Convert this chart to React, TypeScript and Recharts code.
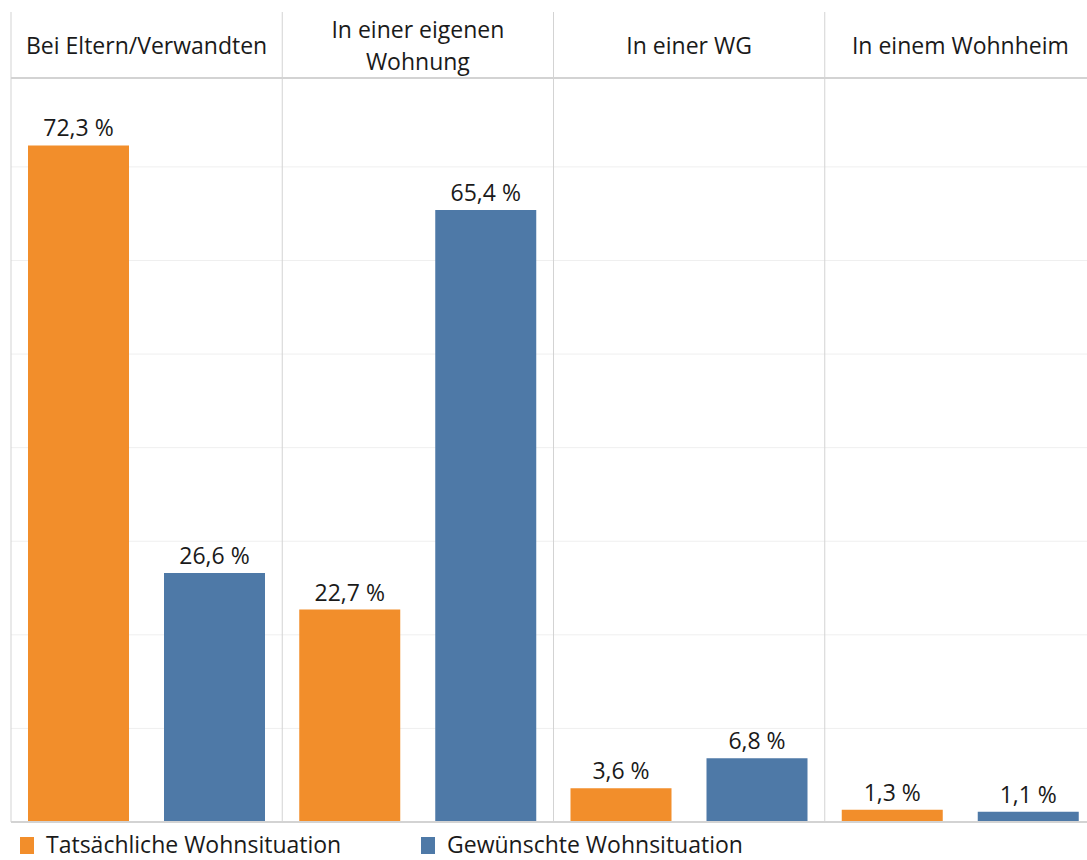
import React from "react";
import {
  BarChart,
  Bar,
  XAxis,
  YAxis,
  CartesianGrid,
  LabelList,
  Legend,
  ReferenceLine,
} from "recharts";

// Wohnsituation – tatsächlich vs. gewünscht (Anteile in %)
const categories = [
  "Bei Eltern/Verwandten",
  "In einer eigenen\nWohnung",
  "In einer WG",
  "In einem Wohnheim",
];
const actualShare = [72.3, 22.7, 3.6, 1.3];
const desiredShare = [26.6, 65.4, 6.8, 1.1];
const seriesNames = ["Tatsächliche Wohnsituation", "Gewünschte Wohnsituation"];
const gridTicks = [0, 10, 20, 30, 40, 50, 60, 70];

const data = categories.map((c, i) => ({
  category: c,
  actual: actualShare[i],
  desired: desiredShare[i],
}));

const FONT = "'Open Sans', 'Noto Sans', sans-serif";
const FONT_SIZE = 23;
const ORANGE = "#F28E2B";
const BLUE = "#4E79A7";
const LINE = "#d3d3d3";

const CHART_W = 1100;
const CHART_H = 860;
const MARGIN = { top: 12, right: 4, left: 11, bottom: 0 };
const HEADER_H = 66;
const LEGEND_H = 38;
const PLOT_W = CHART_W - MARGIN.left - MARGIN.right;
const PLOT_H = CHART_H - MARGIN.top - HEADER_H - LEGEND_H;
const BAND = PLOT_W / categories.length;

const fmt = (v: number) => `${v.toFixed(1).replace(".", ",")} %`;

// Column header with the separator line on the left edge of each column
const HeaderTick = (props: any) => {
  const { x, y, payload } = props;
  const lines = String(payload.value).split("\n");
  const left = x - BAND / 2;
  const centerY = y - HEADER_H / 2;
  const lineGap = 32;
  const startY = centerY - ((lines.length - 1) * lineGap) / 2;
  return (
    <g>
      <line
        x1={left}
        x2={left}
        y1={y - HEADER_H}
        y2={y + PLOT_H}
        stroke={LINE}
        strokeWidth={1}
      />
      {lines.map((l, i) => (
        <text
          key={i}
          x={x}
          y={startY + i * lineGap}
          textAnchor="middle"
          dominantBaseline="central"
          fontFamily={FONT}
          fontSize={FONT_SIZE}
          fill="#1a1a1a"
        >
          {l}
        </text>
      ))}
    </g>
  );
};

const LegendContent = (props: any) => {
  const payload: any[] = props.payload || [];
  const items = seriesNames
    .map((n) => payload.find((p) => p.value === n))
    .filter(Boolean);
  return (
    <div
      style={{
        display: "flex",
        alignItems: "center",
        height: LEGEND_H,
        paddingTop: 6,
        boxSizing: "border-box",
        fontFamily: FONT,
        fontSize: FONT_SIZE,
        lineHeight: "25px",
        color: "#1a1a1a",
        paddingLeft: 9,
      }}
    >
      {items.map((p: any, i: number) => (
        <div
          key={i}
          style={{
            display: "flex",
            alignItems: "center",
            width: 401,
            whiteSpace: "nowrap",
          }}
        >
          <span
            style={{
              display: "inline-block",
              width: 14,
              height: 17,
              background: p.color,
              marginRight: 12,
              marginTop: 3,
            }}
          />
          <span>{p.value}</span>
        </div>
      ))}
    </div>
  );
};

export default function App() {
  return (
    <div
      style={{
        position: "fixed",
        left: 0,
        top: 0,
        width: 1087,
        height: 860,
        overflow: "hidden",
        background: "#fff",
      }}
    >
      <BarChart
        width={CHART_W}
        height={CHART_H}
        data={data}
        margin={MARGIN}
        barSize={101}
        barGap={35}
      >
        <CartesianGrid vertical={false} stroke="#efefef" strokeWidth={1} />
        <XAxis
          dataKey="category"
          orientation="top"
          height={HEADER_H}
          axisLine={{ stroke: LINE, strokeWidth: 2 }}
          tickLine={false}
          tickSize={0}
          tickMargin={0}
          interval={0}
          tick={<HeaderTick />}
        />
        <YAxis hide domain={[0, 79.5]} ticks={gridTicks} />
        <ReferenceLine y={0} stroke={LINE} strokeWidth={2} />
        <Legend
          verticalAlign="bottom"
          align="left"
          height={LEGEND_H}
          content={<LegendContent />}
        />
        <Bar
          dataKey="actual"
          name={seriesNames[0]}
          fill={ORANGE}
          isAnimationActive={false}
        >
          <LabelList
            dataKey="actual"
            position="top"
            offset={9}
            formatter={(v: any) => fmt(Number(v))}
            style={{ fontFamily: FONT, fontSize: FONT_SIZE, fill: "#1a1a1a" }}
          />
        </Bar>
        <Bar
          dataKey="desired"
          name={seriesNames[1]}
          fill={BLUE}
          isAnimationActive={false}
        >
          <LabelList
            dataKey="desired"
            position="top"
            offset={9}
            formatter={(v: any) => fmt(Number(v))}
            style={{ fontFamily: FONT, fontSize: FONT_SIZE, fill: "#1a1a1a" }}
          />
        </Bar>
      </BarChart>
    </div>
  );
}
